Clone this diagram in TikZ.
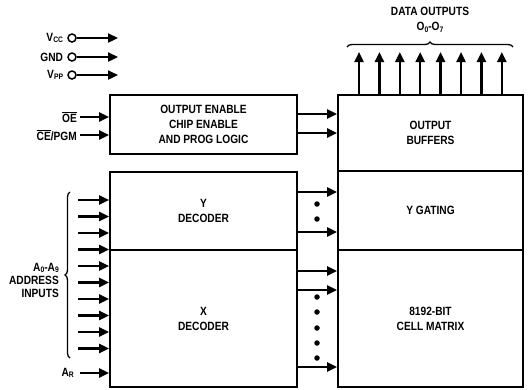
\documentclass[tikz,border=0pt]{standalone}
\usepackage{fontspec}
\setmainfont{Liberation Sans}[FakeStretch=0.85]
\usetikzlibrary{
  arrows.meta,
  positioning,
  calc,
  decorations.pathreplacing
}
\newcommand\lowsub[1]{\raisebox{-1.5bp}{\fontsize{8}{8}\selectfont #1}}
\newcommand\barred[1]{$\overline{\hbox{#1}}$}

\begin{document}
\begin{tikzpicture}[x=1bp, y=-1bp,
  font=\fontsize{12}{15}\selectfont\bfseries,
  blk/.style={draw, line width=1.9bp, inner sep=0pt, align=center, minimum width=#1},
  arr/.style={-{Triangle[length=10bp,width=9bp]}, line width=2.3bp},
  tag/.style={anchor=east, inner sep=0pt},
  pinc/.style={circle, draw, line width=1.5bp, minimum size=8bp, inner sep=0pt},
  dot/.style={circle, fill, minimum size=5.5bp, inner sep=0pt},
  brc/.style={decorate, decoration={brace, amplitude=5bp}, line width=1.3bp}
]
  \useasboundingbox (0,0) rectangle (529,389);

  % blocks
  \node[blk=187bp, minimum height=59bp]  (oelogic) at (203.5,124.5) {OUTPUT ENABLE\\CHIP ENABLE\\AND PROG LOGIC};
  \node[blk=187bp, minimum height=78bp]  (ydec)    at (203.5,211)   {Y\\DECODER};
  \node[blk=187bp, minimum height=137bp] (xdec)    at (203.5,318.5) {X\\DECODER};
  \node[blk=185bp, minimum height=76bp]  (obuf)    at (430.5,133)   {OUTPUT\\BUFFERS};
  \node[blk=185bp, minimum height=79bp]  (ygate)   at (430.5,210.5) {Y GATING};
  \node[blk=185bp, minimum height=137bp] (cellmx)  at (430.5,318.5) {8192-BIT\\CELL MATRIX};

  % supply pins
  \foreach \nm/\txt/\yy in {vcc/V\lowsub{CC}/38, gnd/GND/57, vpp/V\lowsub{PP}/75} {
    \node[pinc] (\nm pin) at (72,\yy) {};
    \node[tag, left=4bp of \nm pin] (\nm) {\txt};
    \coordinate (\nm end) at (118,\yy);
    \draw[arr] (\nm pin) -- (\nm end);
  }

  % control inputs
  \coordinate (oein) at (80,117);
  \coordinate (cein) at (80,135);
  \node[tag, left=3bp of oein] (oe) {\barred{OE}};
  \node[tag, left=3bp of cein] (cepgm) {\barred{CE}/PGM};
  \draw[arr] (oein) -- (oein -| oelogic.west);
  \draw[arr] (cein) -- (cein -| oelogic.west);
  \foreach \yy in {114,133}
    \draw[arr] (oelogic.east |- 0,\yy) -- (obuf.west |- 0,\yy);

  % address inputs
  \foreach \i in {0,...,9} {
    \coordinate (adr\i) at (78,{200+16.5*\i});
    \draw[arr] (adr\i) -- (adr\i -| ydec.west);
  }
  \draw[brc] (70,358) -- (70,192);
  \node[tag, align=right, font=\fontsize{12}{13}\selectfont\bfseries] (adrlbl) at (59,280)
    {A\lowsub{0}-A\lowsub{9}\\ADDRESS\\INPUTS};
  \coordinate (arin) at (80,373);
  \node[tag, left=6bp of arin] (ar) {A\lowsub{R}};
  \draw[arr] (arin) -- (arin -| xdec.west);

  % decoder outputs
  \foreach \yy in {192,232}
    \draw[arr] (ydec.east |- 0,\yy) -- (ygate.west |- 0,\yy);
  \foreach \yy in {271,290,367}
    \draw[arr] (xdec.east |- 0,\yy) -- (cellmx.west |- 0,\yy);
  \foreach \yy in {204,219,297,312,328,343,358}
    \node[dot] (dot\yy) at (317,\yy) {};

  % data outputs
  \foreach \k in {0,...,7} {
    \coordinate (dout\k) at ({359+20.4*\k},52);
    \draw[arr] (dout\k |- obuf.north) -- (dout\k);
  }
  \draw[brc] (347,47) -- (513,47);
  \node[align=center] (dtitle) at (430,20) {DATA OUTPUTS\\O\lowsub{0}-O\lowsub{7}};
\end{tikzpicture}
\end{document}
